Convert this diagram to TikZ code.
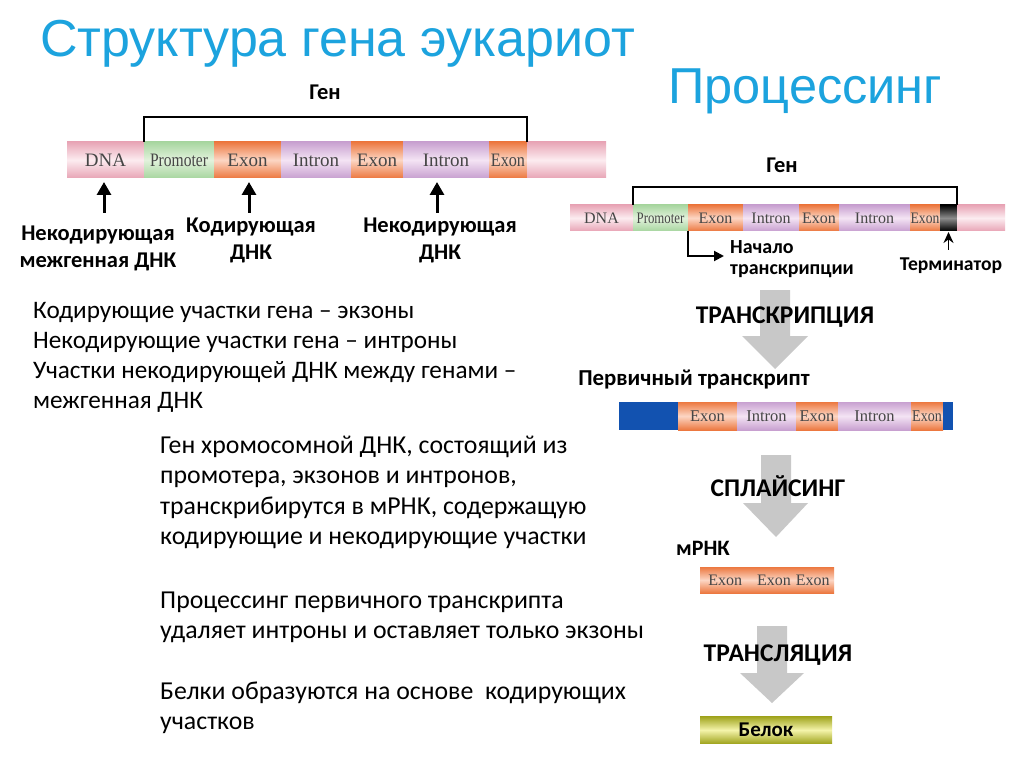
\documentclass[tikz,border=0pt]{standalone}
\usepackage{fontspec}
\setmainfont{Carlito}
\newfontfamily\titlefont{Liberation Sans}
\newfontfamily\barfont{Liberation Serif}
\usetikzlibrary{arrows.meta}
\definecolor{ttl}{RGB}{28,163,222}
\definecolor{bartxt}{RGB}{70,70,70}
\definecolor{dnaE}{RGB}{232,165,182}
\definecolor{dnaM}{RGB}{252,236,240}
\definecolor{proE}{RGB}{168,214,160}
\definecolor{proM}{RGB}{226,242,220}
\definecolor{exE}{RGB}{236,120,64}
\definecolor{exM}{RGB}{252,214,196}
\definecolor{inE}{RGB}{200,160,208}
\definecolor{inM}{RGB}{244,228,244}
\definecolor{capblue}{RGB}{18,82,176}
\definecolor{protE}{RGB}{160,164,30}
\definecolor{protM}{RGB}{244,244,170}
\definecolor{garrow}{RGB}{200,200,200}
\tikzset{
  seg/.style={inner sep=0pt, outer sep=0pt, anchor=west, text=bartxt},
  dnas/.style={seg, top color=dnaE, bottom color=dnaE, middle color=dnaM},
  pros/.style={seg, top color=proE, bottom color=proE, middle color=proM},
  exs/.style={seg, top color=exE, bottom color=exE, middle color=exM},
  ins/.style={seg, top color=inE, bottom color=inE, middle color=inM},
  terms/.style={seg, top color=black, bottom color=black, middle color=black!45},
  caps/.style={seg, fill=capblue},
  prots/.style={seg, top color=protE, bottom color=protE, middle color=protM},
  bigbar/.style={minimum height=36, font=\barfont\fontsize{19}{19}\selectfont},
  smallbar/.style={minimum height=26, font=\barfont\fontsize{16}{16}\selectfont},
  midbar/.style={minimum height=28, font=\barfont\fontsize{16.5}{16.5}\selectfont},
  body/.style={anchor=base west, inner sep=0pt, font=\fontsize{25.2}{30}\selectfont},
  bodyb/.style={anchor=base west, inner sep=0pt, font=\fontsize{25.8}{30}\selectfont},
  lbl/.style={align=center, inner sep=0pt, font=\bfseries\fontsize{22.5}{27}\selectfont},
  stepname/.style={inner sep=0pt, font=\bfseries\fontsize{25.5}{25.5}\selectfont},
  brk/.style={line width=2.8pt},
  upar/.style={line width=3pt, -{Triangle[width=14pt,length=13pt]}, shorten >=4pt},
  thinar/.style={line width=2pt, -{Triangle[width=10pt,length=10pt]}},
  blockar/.style={fill=garrow}
}
\begin{document}
\begin{tikzpicture}[x=1pt,y=-1pt]
\useasboundingbox[fill=white] (0,0) rectangle (1024,767);

% titles
\node[anchor=base west, inner sep=0pt, text=ttl, font=\titlefont\fontsize{52}{60}\selectfont] (title) at (40,57) {Структура гена эукариот};
\node[anchor=base west, inner sep=0pt, text=ttl, font=\titlefont\fontsize{50.5}{60}\selectfont] (proc) at (668,104) {Процессинг};

% ---------- top-left gene ----------
\node[dnas, bigbar, minimum width=77] (tdna1) at (67,160) {DNA};
\node[pros, bigbar, minimum width=70] (tprom) at (144,160) {\scalebox{0.82}[1]{Promoter}};
\node[exs, bigbar, minimum width=67] (tex1) at (214,160) {Exon};
\node[ins, bigbar, minimum width=70] (tin1) at (281,160) {Intron};
\node[exs, bigbar, minimum width=52] (tex2) at (351,160) {Exon};
\node[ins, bigbar, minimum width=86] (tin2) at (403,160) {Intron};
\node[exs, bigbar, minimum width=38] (tex3) at (489,160) {\scalebox{0.85}[1]{Exon}};
\node[dnas, bigbar, minimum width=79] (tdna2) at (527,160) {};

\node[lbl] (tgen) at (325,92) {Ген};
\draw[brk] (tprom.north west) -- ++(0,-25) -| (tex3.north east);

\node[lbl] (lab1) at (98,248) {Некодирующая\\межгенная ДНК};
\node[lbl] (lab2) at (251,240) {Кодирующая\\ДНК};
\node[lbl] (lab3) at (440,240) {Некодирующая\\ДНК};
\coordinate (a1) at (104,213);
\coordinate (a2) at (249,213);
\coordinate (a3) at (437,213);
\draw[upar] (a1) -- (a1 |- tdna1.south);
\draw[upar] (a2) -- (a2 |- tex1.south);
\draw[upar] (a3) -- (a3 |- tin2.south);

% left text
\node[body] (b1) at (33,318) {Кодирующие участки гена – экзоны};
\node[body] (b2) at (33,348) {Некодирующие участки гена – интроны};
\node[body] (b3) at (33,378) {Участки некодирующей ДНК между генами –};
\node[body] (b4) at (33,408) {межгенная ДНК};

\node[bodyb] (p1) at (160,453) {Ген хромосомной ДНК, состоящий из};
\node[bodyb] (p2) at (160,483) {промотера, экзонов и интронов,};
\node[bodyb] (p3) at (160,514) {транскрибирутся в мРНК, содержащую};
\node[bodyb] (p4) at (160,544) {кодирующие и некодирующие участки};
\node[bodyb] (p5) at (160,608) {Процессинг первичного транскрипта};
\node[bodyb] (p6) at (160,638) {удаляет интроны и оставляет только экзоны};
\node[bodyb] (p7) at (160,699) {Белки образуются на основе\ \ кодирующих};
\node[bodyb] (p8) at (160,729) {участков};

% ---------- gray block arrows ----------
\fill[blockar] (760,290) -- (790,290) -- (790,336) -- (808,336) -- (775,369) -- (742,336) -- (760,336) -- cycle;
\fill[blockar] (761,455) -- (791,455) -- (791,503) -- (808,503) -- (776,537) -- (743,503) -- (761,503) -- cycle;
\fill[blockar] (757,626) -- (787,626) -- (787,673) -- (804,673) -- (772,703) -- (740,673) -- (757,673) -- cycle;

% ---------- right gene ----------
\node[dnas, smallbar, minimum width=63] (rdna1) at (570,218) {DNA};
\node[pros, smallbar, minimum width=55] (rprom) at (633,218) {\scalebox{0.8}[1]{Promoter}};
\node[exs, smallbar, minimum width=55] (rex1) at (688,218) {Exon};
\node[ins, smallbar, minimum width=56] (rin1) at (743,218) {Intron};
\node[exs, smallbar, minimum width=40] (rex2) at (799,218) {Exon};
\node[ins, smallbar, minimum width=71] (rin2) at (839,218) {Intron};
\node[exs, smallbar, minimum width=30] (rex3) at (910,218) {\scalebox{0.85}[1]{Exon}};
\node[terms, smallbar, minimum width=17] (rterm) at (940,218) {};
\node[dnas, smallbar, minimum width=48] (rdna2) at (957,218) {};

\node[lbl] (rgen) at (782,165) {Ген};
\draw[brk, line width=2.4pt] (rprom.north west) -- ++(0,-18) -| (rterm.north east);

\node[anchor=north west, align=left, inner sep=0pt, font=\bfseries\fontsize{20}{21}\selectfont] (start) at (730,240) {Начало\\транскрипции};
\coordinate (startpt) at (724,256);
\draw[thinar] (rex1.south west) |- (startpt);
\node[inner sep=0pt, font=\bfseries\fontsize{19.6}{21}\selectfont] (term) at (951,266) {Терминатор};
\draw[thinar, line width=1.8pt, -{Stealth[width=10pt,length=11pt]}, shorten <=8pt, shorten >=1pt] (term.north -| rterm.south) -- (rterm.south);

\node[stepname] (tr) at (785,317) {ТРАНСКРИПЦИЯ};

% primary transcript
\node[inner sep=0pt, font=\bfseries\fontsize{22.8}{22}\selectfont] (prim) at (694,380) {Первичный транскрипт};
\node[caps, midbar, minimum width=59] (pc1) at (619,416) {};
\node[exs, midbar, minimum width=59] (pex1) at (678,416) {Exon};
\node[ins, midbar, minimum width=59] (pin1) at (737,416) {Intron};
\node[exs, midbar, minimum width=42] (pex2) at (796,416) {Exon};
\node[ins, midbar, minimum width=73] (pin2) at (838,416) {Intron};
\node[exs, midbar, minimum width=32] (pex3) at (911,416) {\scalebox{0.85}[1]{Exon}};
\node[caps, midbar, minimum width=10] (pc2) at (943,416) {};

\node[stepname] (spl) at (778,486) {СПЛАЙСИНГ};

% mRNA
\node[inner sep=0pt, font=\bfseries\fontsize{22}{22}\selectfont] (mrna) at (703,548) {мРНК};
\node[exs, smallbar, minimum width=134] (mbar) at (700,580) {\hspace{4pt}Exon\hspace{15pt}Exon\hspace{5pt}Exon};

\node[stepname] (trl) at (778,655) {ТРАНСЛЯЦИЯ};

% protein
\node[prots, minimum height=27, minimum width=132, text=black, font=\bfseries\fontsize{21}{21}\selectfont] (prot) at (700,730) {Белок};
\end{tikzpicture}
\end{document}
